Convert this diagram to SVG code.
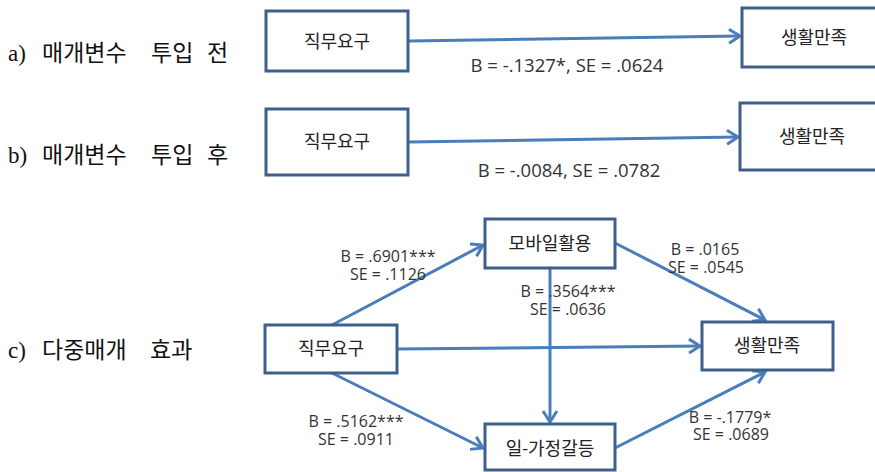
<svg xmlns="http://www.w3.org/2000/svg" width="875" height="472" viewBox="0 0 875 472">
<style>
.box{fill:#fff;stroke:#3d5f8c;stroke-width:3}
.nt{font-family:"Open Sans","Noto Sans CJK KR",sans-serif;font-size:18px;fill:#222;text-anchor:middle}
.cn{fill:none;stroke:#4a7ebb;stroke-width:3;marker-end:url(#arr)}
.lb{font-family:"Open Sans","Noto Sans CJK KR",sans-serif;font-size:16px;fill:#333;text-anchor:middle}
.lbt{font-family:"Open Sans","Noto Sans CJK KR",sans-serif;font-size:18.5px;fill:#333;text-anchor:middle}
.sec{font-family:"Liberation Serif","Noto Sans CJK KR",serif;font-size:23px;fill:#111}
</style>
<defs>
<marker id="arr" markerUnits="userSpaceOnUse" markerWidth="16" markerHeight="18" refX="13" refY="8" orient="auto" overflow="visible">
<path d="M2,1 L13,8 L2,15" fill="none" stroke="#4a7ebb" stroke-width="3" stroke-linejoin="miter"/>
</marker>
</defs>
<rect width="875" height="472" fill="#fff"/>

<text class="sec" y="61"><tspan x="8">a)</tspan><tspan x="42">매개변수</tspan><tspan x="151">투입</tspan><tspan x="207">전</tspan></text>
<text class="sec" y="163"><tspan x="8">b)</tspan><tspan x="42">매개변수</tspan><tspan x="151">투입</tspan><tspan x="207">후</tspan></text>
<text class="sec" y="358"><tspan x="8">c)</tspan><tspan x="42">다중매개</tspan><tspan x="150">효과</tspan></text>

<g id="connectors">
<line class="cn" x1="409" y1="41" x2="740" y2="36"/>
<line class="cn" x1="409" y1="142" x2="738" y2="137"/>
<line class="cn" x1="332" y1="325" x2="483" y2="245"/>
<line class="cn" x1="332" y1="373" x2="483" y2="448"/>
<line class="cn" x1="397" y1="349" x2="700" y2="346"/>
<line class="cn" x1="550" y1="268" x2="550" y2="422"/>
<line class="cn" x1="615" y1="243" x2="765" y2="320"/>
<line class="cn" x1="615" y1="448" x2="765" y2="372"/>
</g>

<g id="a-demand"><rect class="box" x="266" y="11" width="142" height="60"/><text class="nt" x="337" y="48">직무요구</text></g>
<g id="a-life"><rect class="box" x="742" y="8" width="146" height="59"/><text class="nt" x="814" y="44">생활만족</text></g>
<g id="b-demand"><rect class="box" x="266" y="109" width="142" height="66"/><text class="nt" x="337" y="148">직무요구</text></g>
<g id="b-life"><rect class="box" x="740" y="103" width="148" height="67"/><text class="nt" x="812" y="143">생활만족</text></g>
<g id="c-demand"><rect class="box" x="265" y="325" width="132" height="48"/><text class="nt" x="331" y="355">직무요구</text></g>
<g id="c-mobile"><rect class="box" x="485" y="219" width="130" height="49"/><text class="nt" x="550" y="250">모바일활용</text></g>
<g id="c-conflict"><rect class="box" x="485" y="424" width="130" height="46"/><text class="nt" x="550" y="455">일-가정갈등</text></g>
<g id="c-life"><rect class="box" x="702" y="322" width="131" height="48"/><text class="nt" x="767" y="352">생활만족</text></g>

<g id="labels">
<text class="lbt" x="567" y="72">B = -.1327*, SE = .0624</text>
<text class="lbt" x="569" y="177">B = -.0084, SE = .0782</text>
<text class="lb" x="388" y="262">B = .6901***</text>
<text class="lb" x="388" y="280">SE = .1126</text>
<text class="lb" x="568" y="297">B = .3564***</text>
<text class="lb" x="568" y="315">SE = .0636</text>
<text class="lb" x="705" y="255">B = .0165</text>
<text class="lb" x="706" y="273">SE = .0545</text>
<text class="lb" x="356" y="427">B = .5162***</text>
<text class="lb" x="356" y="445">SE = .0911</text>
<text class="lb" x="730" y="423">B = -.1779*</text>
<text class="lb" x="731" y="440">SE = .0689</text>
</g>
</svg>
